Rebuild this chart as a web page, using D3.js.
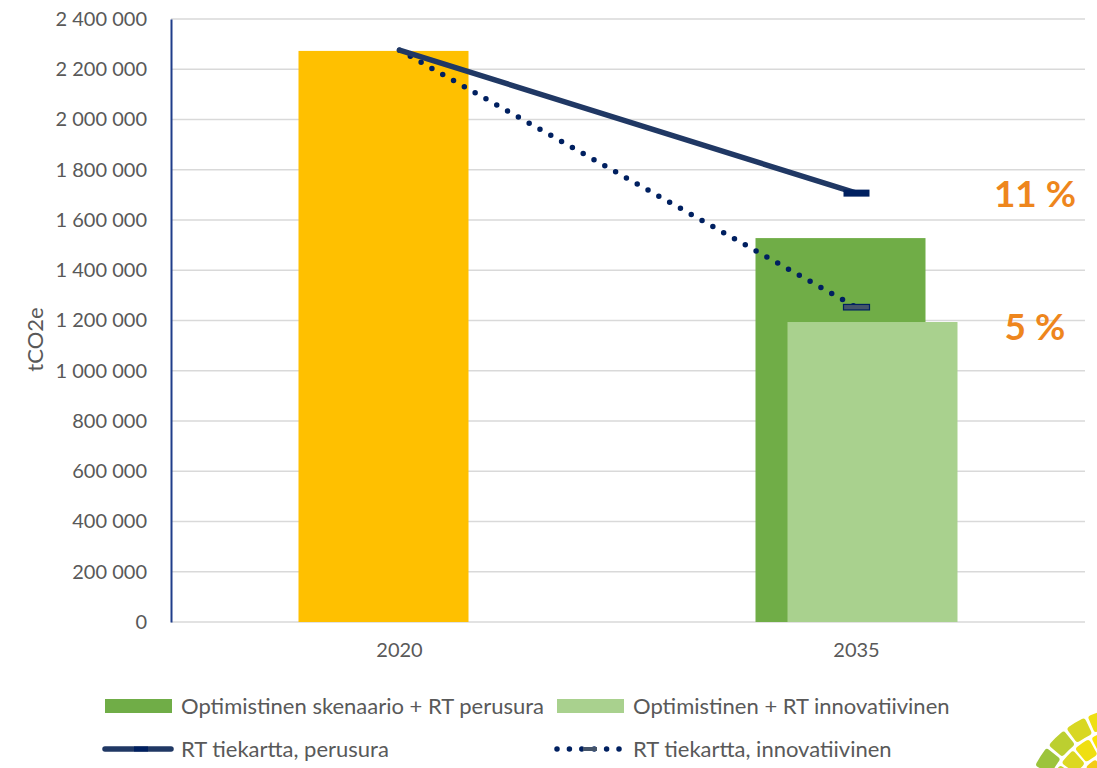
<!DOCTYPE html>
<html>
<head>
<meta charset="utf-8">
<script src="https://cdn.jsdelivr.net/npm/d3@7"></script>
<style>
  html, body { margin: 0; padding: 0; background: #fff; }
  svg { display: block; font-family: Lato, "Open Sans", sans-serif; }
</style>
</head>
<body>
<svg id="chart" width="1097" height="768"></svg>
<script>
// Emission data (tCO2e)
const categories = ["2020", "2035"];
const baseSeries = [2273000, 1528000];        // 2020 actual, optimistinen + RT perusura
const innovSeries = [null, 1194000];          // optimistinen + RT innovatiivinen
const roadmapBasic = [2276000, 1707000];      // RT tiekartta, perusura
const roadmapInnov = [2276000, 1252000];      // RT tiekartta, innovatiivinen
const yTicks = [0, 200000, 400000, 600000, 800000, 1000000, 1200000, 1400000, 1600000, 1800000, 2000000, 2200000, 2400000];
const pctLabels = [
  { text: "11 %", value: 1707000 },
  { text: "5 %", value: 1180000 }
];
const legendItems = [
  "Optimistinen skenaario + RT perusura",
  "Optimistinen + RT innovatiivinen",
  "RT tiekartta, perusura",
  "RT tiekartta, innovatiivinen"
];

const svg = d3.select("#chart");
const margin = { left: 171, right: 1085, top: 19, bottom: 622 };

const x = d3.scaleBand().domain(categories).range([margin.left, margin.right]).padding(0);
const y = d3.scaleLinear().domain([0, 2400000]).range([margin.bottom, margin.top]);

const barW = 170, barShift = 16;
const fmt = v => d3.format(",")(v).replace(/,/g, " ");

// Gridlines
svg.append("g").selectAll("line").data(yTicks).join("line")
  .attr("x1", margin.left).attr("x2", margin.right)
  .attr("y1", d => y(d)).attr("y2", d => y(d))
  .attr("stroke", "#d9d9d9").attr("stroke-width", 1.3);

// Y axis
const yAxis = svg.append("g").attr("transform", `translate(${margin.left},0)`)
  .call(d3.axisLeft(y).tickValues(yTicks).tickFormat(fmt).tickSize(0).tickPadding(24));
yAxis.select(".domain").attr("stroke", "#1f3d8a").attr("stroke-width", 2);
yAxis.selectAll("text").attr("fill", "#595959").attr("font-size", 20).attr("font-family", "Lato, sans-serif");

// X axis labels
const xAxis = svg.append("g").attr("transform", `translate(0,${margin.bottom})`)
  .call(d3.axisBottom(x).tickSize(0).tickPadding(21));
xAxis.select(".domain").remove();
xAxis.selectAll("text").attr("fill", "#595959").attr("font-size", 20).attr("font-family", "Lato, sans-serif");

// Y axis title
svg.append("text")
  .attr("transform", `translate(43,${(margin.top + margin.bottom) / 2 + 4 + 15}) rotate(-90)`)
  .attr("text-anchor", "middle").attr("fill", "#595959").attr("font-size", 22)
  .text("tCO2e");

const cx = c => x(c) + x.bandwidth() / 2;

// Bars: first series (2020 yellow, 2035 dark green)
const baseColors = ["#ffc000", "#70ad47"];
svg.append("g").selectAll("rect").data(categories).join("rect")
  .attr("x", c => cx(c) - barShift - barW / 2)
  .attr("width", barW)
  .attr("y", (c, i) => y(baseSeries[i]))
  .attr("height", (c, i) => y(0) - y(baseSeries[i]))
  .attr("fill", (c, i) => baseColors[i]);

// Bars: second series (light green)
svg.append("g").selectAll("rect").data(categories.filter((c, i) => innovSeries[i] != null)).join("rect")
  .attr("x", c => cx(c) + barShift - barW / 2)
  .attr("width", barW)
  .attr("y", c => y(innovSeries[categories.indexOf(c)]))
  .attr("height", c => y(0) - y(innovSeries[categories.indexOf(c)]))
  .attr("fill", "#a9d18e");

// Roadmap lines
const line = d3.line().x((d, i) => cx(categories[i])).y(d => y(d));
svg.append("path").datum(roadmapInnov).attr("d", line)
  .attr("fill", "none").attr("stroke", "#002060").attr("stroke-width", 5.5)
  .attr("stroke-linecap", "round").attr("stroke-dasharray", "0,12.4");
svg.append("path").datum(roadmapBasic).attr("d", line)
  .attr("fill", "none").attr("stroke", "#203864").attr("stroke-width", 5.5)
  .attr("stroke-linecap", "round");

// End markers at 2035
const mW = 26;
svg.append("rect").attr("x", cx("2035") - mW / 2).attr("y", y(roadmapBasic[1]) - 3.5)
  .attr("width", mW).attr("height", 7).attr("fill", "#002060");
svg.append("rect").attr("x", cx("2035") - mW / 2).attr("y", y(roadmapInnov[1]) - 3)
  .attr("width", mW).attr("height", 5.5).attr("fill", "#44546a")
  .attr("stroke", "#002060").attr("stroke-width", 1.2);

// Percentage annotations
svg.append("g").selectAll("text").data(pctLabels).join("text")
  .attr("x", 1035).attr("y", d => y(d.value) + 14)
  .attr("text-anchor", "middle").attr("fill", "#ee861d")
  .attr("font-size", 37).attr("font-weight", "bold")
  .text(d => d.text);

// Legend
const legend = svg.append("g").attr("font-size", 22).attr("fill", "#595959");
const lx = [105, 557], ly = [706, 749];
legend.append("rect").attr("x", lx[0]).attr("y", ly[0] - 7).attr("width", 67).attr("height", 14).attr("fill", "#70ad47");
legend.append("rect").attr("x", lx[1]).attr("y", ly[0] - 7).attr("width", 67).attr("height", 14).attr("fill", "#a9d18e");
legend.append("line").attr("x1", lx[0]).attr("x2", lx[0] + 66).attr("y1", ly[1]).attr("y2", ly[1])
  .attr("stroke", "#203864").attr("stroke-width", 5.5).attr("stroke-linecap", "round");
legend.append("rect").attr("x", lx[0] + 29).attr("y", ly[1] - 2.5).attr("width", 14).attr("height", 5).attr("fill", "#002060");
legend.append("line").attr("x1", lx[1]).attr("x2", lx[1] + 66).attr("y1", ly[1]).attr("y2", ly[1])
  .attr("stroke", "#002060").attr("stroke-width", 5.5).attr("stroke-linecap", "round").attr("stroke-dasharray", "0,12.4");
legend.append("rect").attr("x", lx[1] + 26).attr("y", ly[1] - 2).attr("width", 14).attr("height", 4).attr("fill", "#44546a");
[[lx[0], ly[0]], [lx[1], ly[0]], [lx[0], ly[1]], [lx[1], ly[1]]].forEach((p, i) => {
  legend.append("text").attr("x", p[0] + 76).attr("y", p[1] + 8).text(legendItems[i]);
});

// Corner emblem: ring of leaf-like segments
const emblem = svg.append("g").attr("transform", "translate(1130,814)");
const rings = [[44, 66], [66, 87], [87, 108]];
const ringColors = [
  ["#e2b622", "#ecbf1d", "#f3cb16", "#f8d80c", "#fde300"],
  ["#c5d32c", "#dcd822", "#efdf12", "#fbe405", "#fde500"],
  ["#9cc43c", "#bccf30", "#d8d723", "#eedf14", "#fde500"]
];
const arcGen = d3.arc().cornerRadius(3);
rings.forEach((r, ri) => {
  for (let k = 0; k < 5; k++) {
    const a0 = -1.22 + k * 0.23 + ri * 0.06;
    emblem.append("path")
      .attr("d", arcGen({ innerRadius: r[0] + 1.5, outerRadius: r[1] - 1.5, startAngle: a0, endAngle: a0 + 0.2 }))
      .attr("fill", ringColors[ri][k]);
  }
});
</script>
</body>
</html>
